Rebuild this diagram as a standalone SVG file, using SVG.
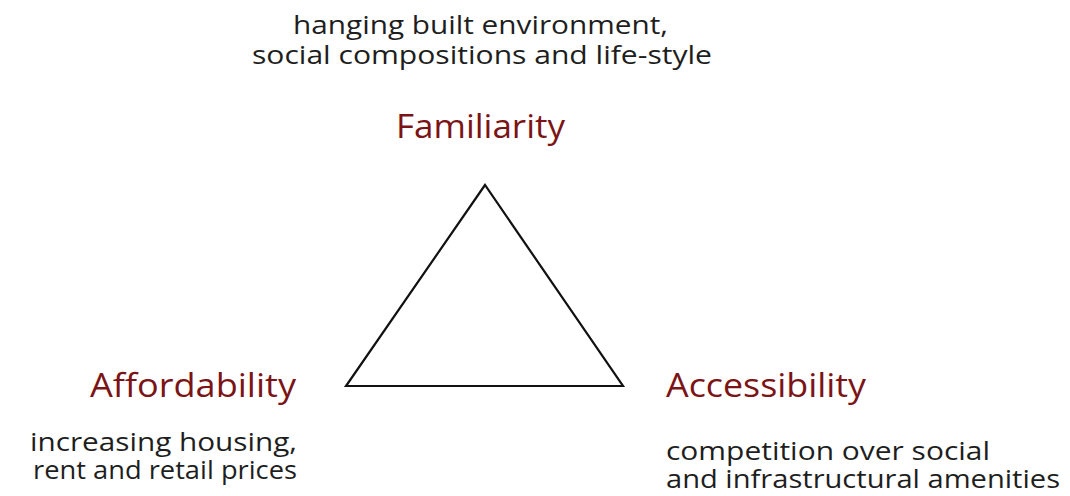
<svg xmlns="http://www.w3.org/2000/svg" width="1070" height="496" viewBox="0 0 1070 496">
<style>
.t{font-family:"Open Sans","Noto Sans","Liberation Sans",sans-serif;fill:#1e1e1e;font-size:25px}
.h{font-family:"Open Sans","Noto Sans","Liberation Sans",sans-serif;fill:#7b1416;font-size:32px}
</style>
<rect width="1070" height="496" fill="#fff"/>
<g id="connectors">
<polygon points="485,185 346,386 623,386" fill="none" stroke="#111" stroke-width="2.2" stroke-linejoin="miter"/>
</g>
<g id="familiarity">
<text class="t"><tspan x="293" y="34" textLength="375" lengthAdjust="spacingAndGlyphs">hanging built environment,</tspan><tspan x="252" y="64" textLength="460" lengthAdjust="spacingAndGlyphs">social compositions and life-style</tspan></text>
<text class="h" x="396" y="138" textLength="169" lengthAdjust="spacingAndGlyphs">Familiarity</text>
</g>
<g id="affordability">
<text class="h" x="90" y="397" textLength="206" lengthAdjust="spacingAndGlyphs">Affordability</text>
<text class="t"><tspan x="30" y="451" textLength="267" lengthAdjust="spacingAndGlyphs">increasing housing,</tspan><tspan x="33" y="479" textLength="264" lengthAdjust="spacingAndGlyphs">rent and retail prices</tspan></text>
</g>
<g id="accessibility">
<text class="h" x="666" y="397" textLength="200" lengthAdjust="spacingAndGlyphs">Accessibility</text>
<text class="t"><tspan x="666" y="460" textLength="324" lengthAdjust="spacingAndGlyphs">competition over social</tspan><tspan x="666" y="488" textLength="394" lengthAdjust="spacingAndGlyphs">and infrastructural amenities</tspan></text>
</g>
</svg>
